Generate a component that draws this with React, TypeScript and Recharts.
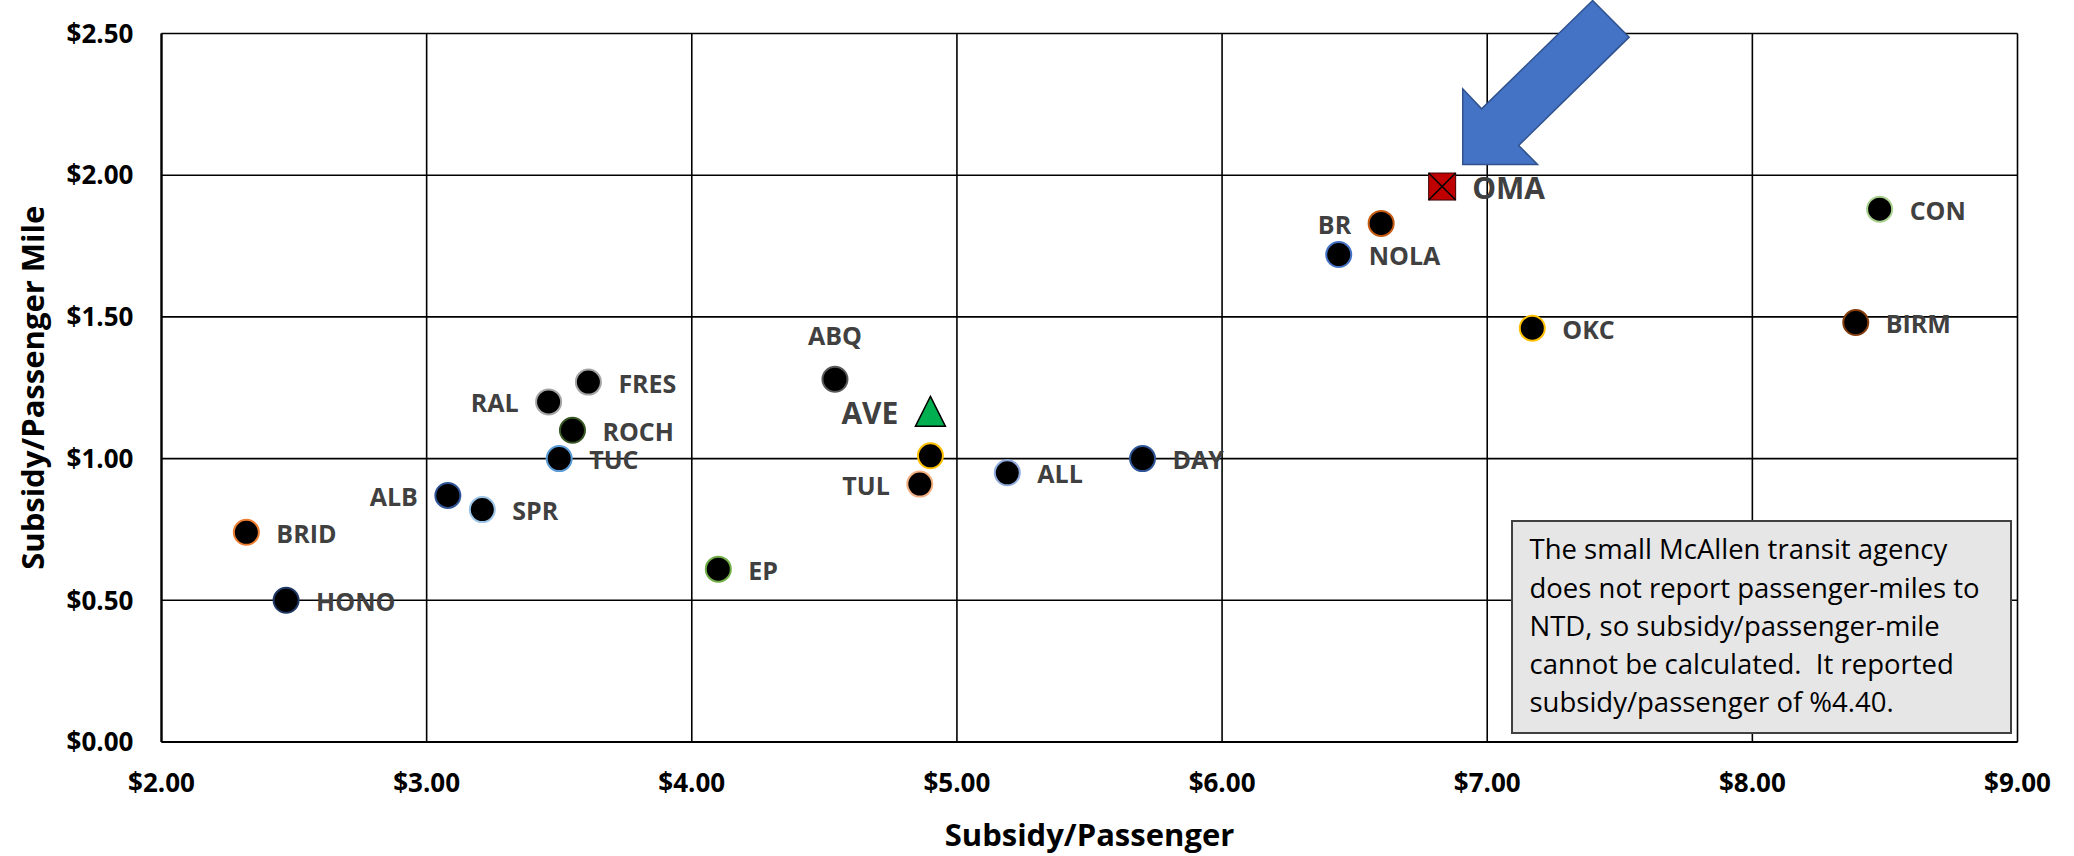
import React from 'react';
import { ScatterChart, Scatter, XAxis, YAxis, CartesianGrid } from 'recharts';

// ---- Data ----
const agencyCodes = ['HONO', 'BRID', 'ALB', 'SPR', 'TUC', 'RAL', 'ROCH', 'FRES', 'EP', 'ABQ', 'TUL', '', 'ALL', 'DAY', 'NOLA', 'BR', 'OKC', 'BIRM', 'CON'];
const subsidyPerPassenger = [2.47, 2.32, 3.08, 3.21, 3.50, 3.46, 3.55, 3.61, 4.10, 4.54, 4.86, 4.90, 5.19, 5.70, 6.44, 6.60, 7.17, 8.39, 8.48];
const subsidyPerPassengerMile = [0.50, 0.74, 0.87, 0.82, 1.00, 1.20, 1.10, 1.27, 0.61, 1.28, 0.91, 1.01, 0.95, 1.00, 1.72, 1.83, 1.46, 1.48, 1.88];

const averageCode = ['AVE'];
const averagePerPassenger = [4.90];
const averagePerPassengerMile = [1.165];

const highlightCode = ['OMA'];
const highlightPerPassenger = [6.83];
const highlightPerPassengerMile = [1.96];

const xTicks = [2, 3, 4, 5, 6, 7, 8, 9];
const yTicks = [0, 0.5, 1, 1.5, 2, 2.5];

const xTitle = 'Subsidy/Passenger';
const yTitle = 'Subsidy/Passenger Mile';
const noteLines = [
  'The small McAllen transit agency',
  'does not report passenger-miles to',
  'NTD, so subsidy/passenger-mile',
  'cannot be calculated.  It reported',
  'subsidy/passenger of %4.40.',
];

// ---- Styles ----
const FONT = '"Open Sans", "Noto Sans", sans-serif';
const markerStroke: Record<string, string> = {
  HONO: '#1F3864', BRID: '#ED7D31', ALB: '#2F5597', SPR: '#9DC3E6', TUC: '#5B9BD5',
  RAL: '#A5A5A5', ROCH: '#375623', FRES: '#A5A5A5', EP: '#70AD47', ABQ: '#595959',
  TUL: '#F4B183', '': '#FFC000', ALL: '#8FAADC', DAY: '#2F5597', NOLA: '#4472C4',
  BR: '#C55A11', OKC: '#FFC000', BIRM: '#843C0C', CON: '#A9D18E',
};
const labelSide: Record<string, 'left' | 'right' | 'top'> = {
  RAL: 'left', ALB: 'left', TUL: 'left', BR: 'left', ABQ: 'top',
};

const agencyData = agencyCodes.map((code, i) => ({ code, x: subsidyPerPassenger[i], y: subsidyPerPassengerMile[i] }));
const averageData = averageCode.map((code, i) => ({ code, x: averagePerPassenger[i], y: averagePerPassengerMile[i] }));
const highlightData = highlightCode.map((code, i) => ({ code, x: highlightPerPassenger[i], y: highlightPerPassengerMile[i] }));

const fmt = (v: number) => `$${v.toFixed(2)}`;

const PointLabel = ({ cx, cy, text, side, size }: any) => {
  if (!text) return null;
  const common = { fill: '#404040', fontFamily: FONT, fontWeight: 700, fontSize: size } as any;
  if (side === 'top') {
    return <text x={cx} y={cy - 42.7} dy="0.357em" textAnchor="middle" {...common}>{text}</text>;
  }
  if (side === 'left') {
    return <text x={cx - 30} y={cy + 1.5} dy="0.357em" textAnchor="end" {...common}>{text}</text>;
  }
  return <text x={cx + 30} y={cy + 1.5} dy="0.357em" textAnchor="start" {...common}>{text}</text>;
};

const AgencyDot = (props: any) => {
  const { cx, cy, payload } = props;
  if (cx == null || cy == null) return null;
  const code = payload.code as string;
  return (
    <g>
      <circle cx={cx} cy={cy} r={12.5} fill="#000" stroke={markerStroke[code] ?? '#000'} strokeWidth={2} />
      <PointLabel cx={cx} cy={cy} text={code} side={labelSide[code] ?? 'right'} size={25} />
    </g>
  );
};

const AverageMark = (props: any) => {
  const { cx, cy, payload } = props;
  if (cx == null || cy == null) return null;
  const pts = `${cx},${cy - 15.5} ${cx + 15},${cy + 14.5} ${cx - 15},${cy + 14.5}`;
  return (
    <g>
      <polygon points={pts} fill="#00B050" stroke="#000" strokeWidth={1.5} />
      <PointLabel cx={cx - 2} cy={cy} text={payload.code} side="left" size={30} />
    </g>
  );
};

const HighlightMark = (props: any) => {
  const { cx, cy, payload } = props;
  if (cx == null || cy == null) return null;
  const h = 13.5;
  const arrow = [
    [150.5, -186], [187, -149.4], [76.5, -41], [95.4, -22], [20.6, -22], [20.6, -97.7], [39.5, -77.7],
  ].map(([dx, dy]) => `${cx + dx},${cy + dy}`).join(' ');
  return (
    <g>
      <rect x={cx - h} y={cy - h} width={2 * h} height={2 * h} fill="#C00000" stroke="#3a0000" strokeWidth={1} />
      <line x1={cx - h} y1={cy - h} x2={cx + h} y2={cy + h} stroke="#000" strokeWidth={1.5} />
      <line x1={cx - h} y1={cy + h} x2={cx + h} y2={cy - h} stroke="#000" strokeWidth={1.5} />
      <PointLabel cx={cx} cy={cy} text={payload.code} side="right" size={30} />
      <polygon points={arrow} fill="#4472C4" stroke="#2F528F" strokeWidth={1.5} />
    </g>
  );
};

const XTitle = (props: any) => {
  const vb = props.viewBox || {};
  return (
    <text x={vb.x + vb.width / 2} y={846} textAnchor="middle" fill="#000" fontFamily={FONT} fontWeight={700} fontSize={31}>
      {xTitle}
    </text>
  );
};

const YTitle = (props: any) => {
  const vb = props.viewBox || {};
  const cx = 33;
  const cy = vb.y + vb.height / 2;
  return (
    <text x={cx} y={cy} dy="0.357em" textAnchor="middle" transform={`rotate(-90, ${cx}, ${cy})`} fill="#000" fontFamily={FONT} fontWeight={700} fontSize={31}>
      {yTitle}
    </text>
  );
};

const tickStyle = { fill: '#000', fontFamily: FONT, fontWeight: 700, fontSize: 26 };

export default function App() {
  return (
    <div style={{ position: 'absolute', left: 0, top: 0, width: 2074, height: 856, background: '#fff' }}>
      <ScatterChart width={2074} height={856} margin={{ top: 33.5, right: 56.5, bottom: 0, left: 0 }}>
        <CartesianGrid stroke="#000" strokeWidth={1.6} />
        <XAxis
          type="number" dataKey="x" domain={[2, 9]} ticks={xTicks} tickFormatter={fmt}
          height={114} tickSize={0} tickMargin={32} tick={tickStyle}
          axisLine={{ stroke: '#000', strokeWidth: 2.2 }} allowDecimals
          label={<XTitle />}
        />
        <YAxis
          type="number" dataKey="y" domain={[0, 2.5]} ticks={yTicks} tickFormatter={fmt}
          width={161.5} tickSize={0} tickMargin={28} tick={tickStyle}
          axisLine={{ stroke: '#000', strokeWidth: 2.2 }}
          label={<YTitle />}
        />
        <Scatter data={agencyData} shape={AgencyDot} isAnimationActive={false} />
        <Scatter data={averageData} shape={AverageMark} isAnimationActive={false} />
        <Scatter data={highlightData} shape={HighlightMark} isAnimationActive={false} />
      </ScatterChart>
      <div
        style={{
          position: 'absolute', left: 1510.5, top: 520.3, width: 501.3, height: 213.7, boxSizing: 'border-box',
          background: '#E7E6E6', border: '2px solid #404040', padding: '8px 0 0 17px',
          fontFamily: FONT, fontSize: 27.5, lineHeight: '38.3px', color: '#000', whiteSpace: 'pre',
        }}
      >
        {noteLines.join('\n')}
      </div>
    </div>
  );
}
